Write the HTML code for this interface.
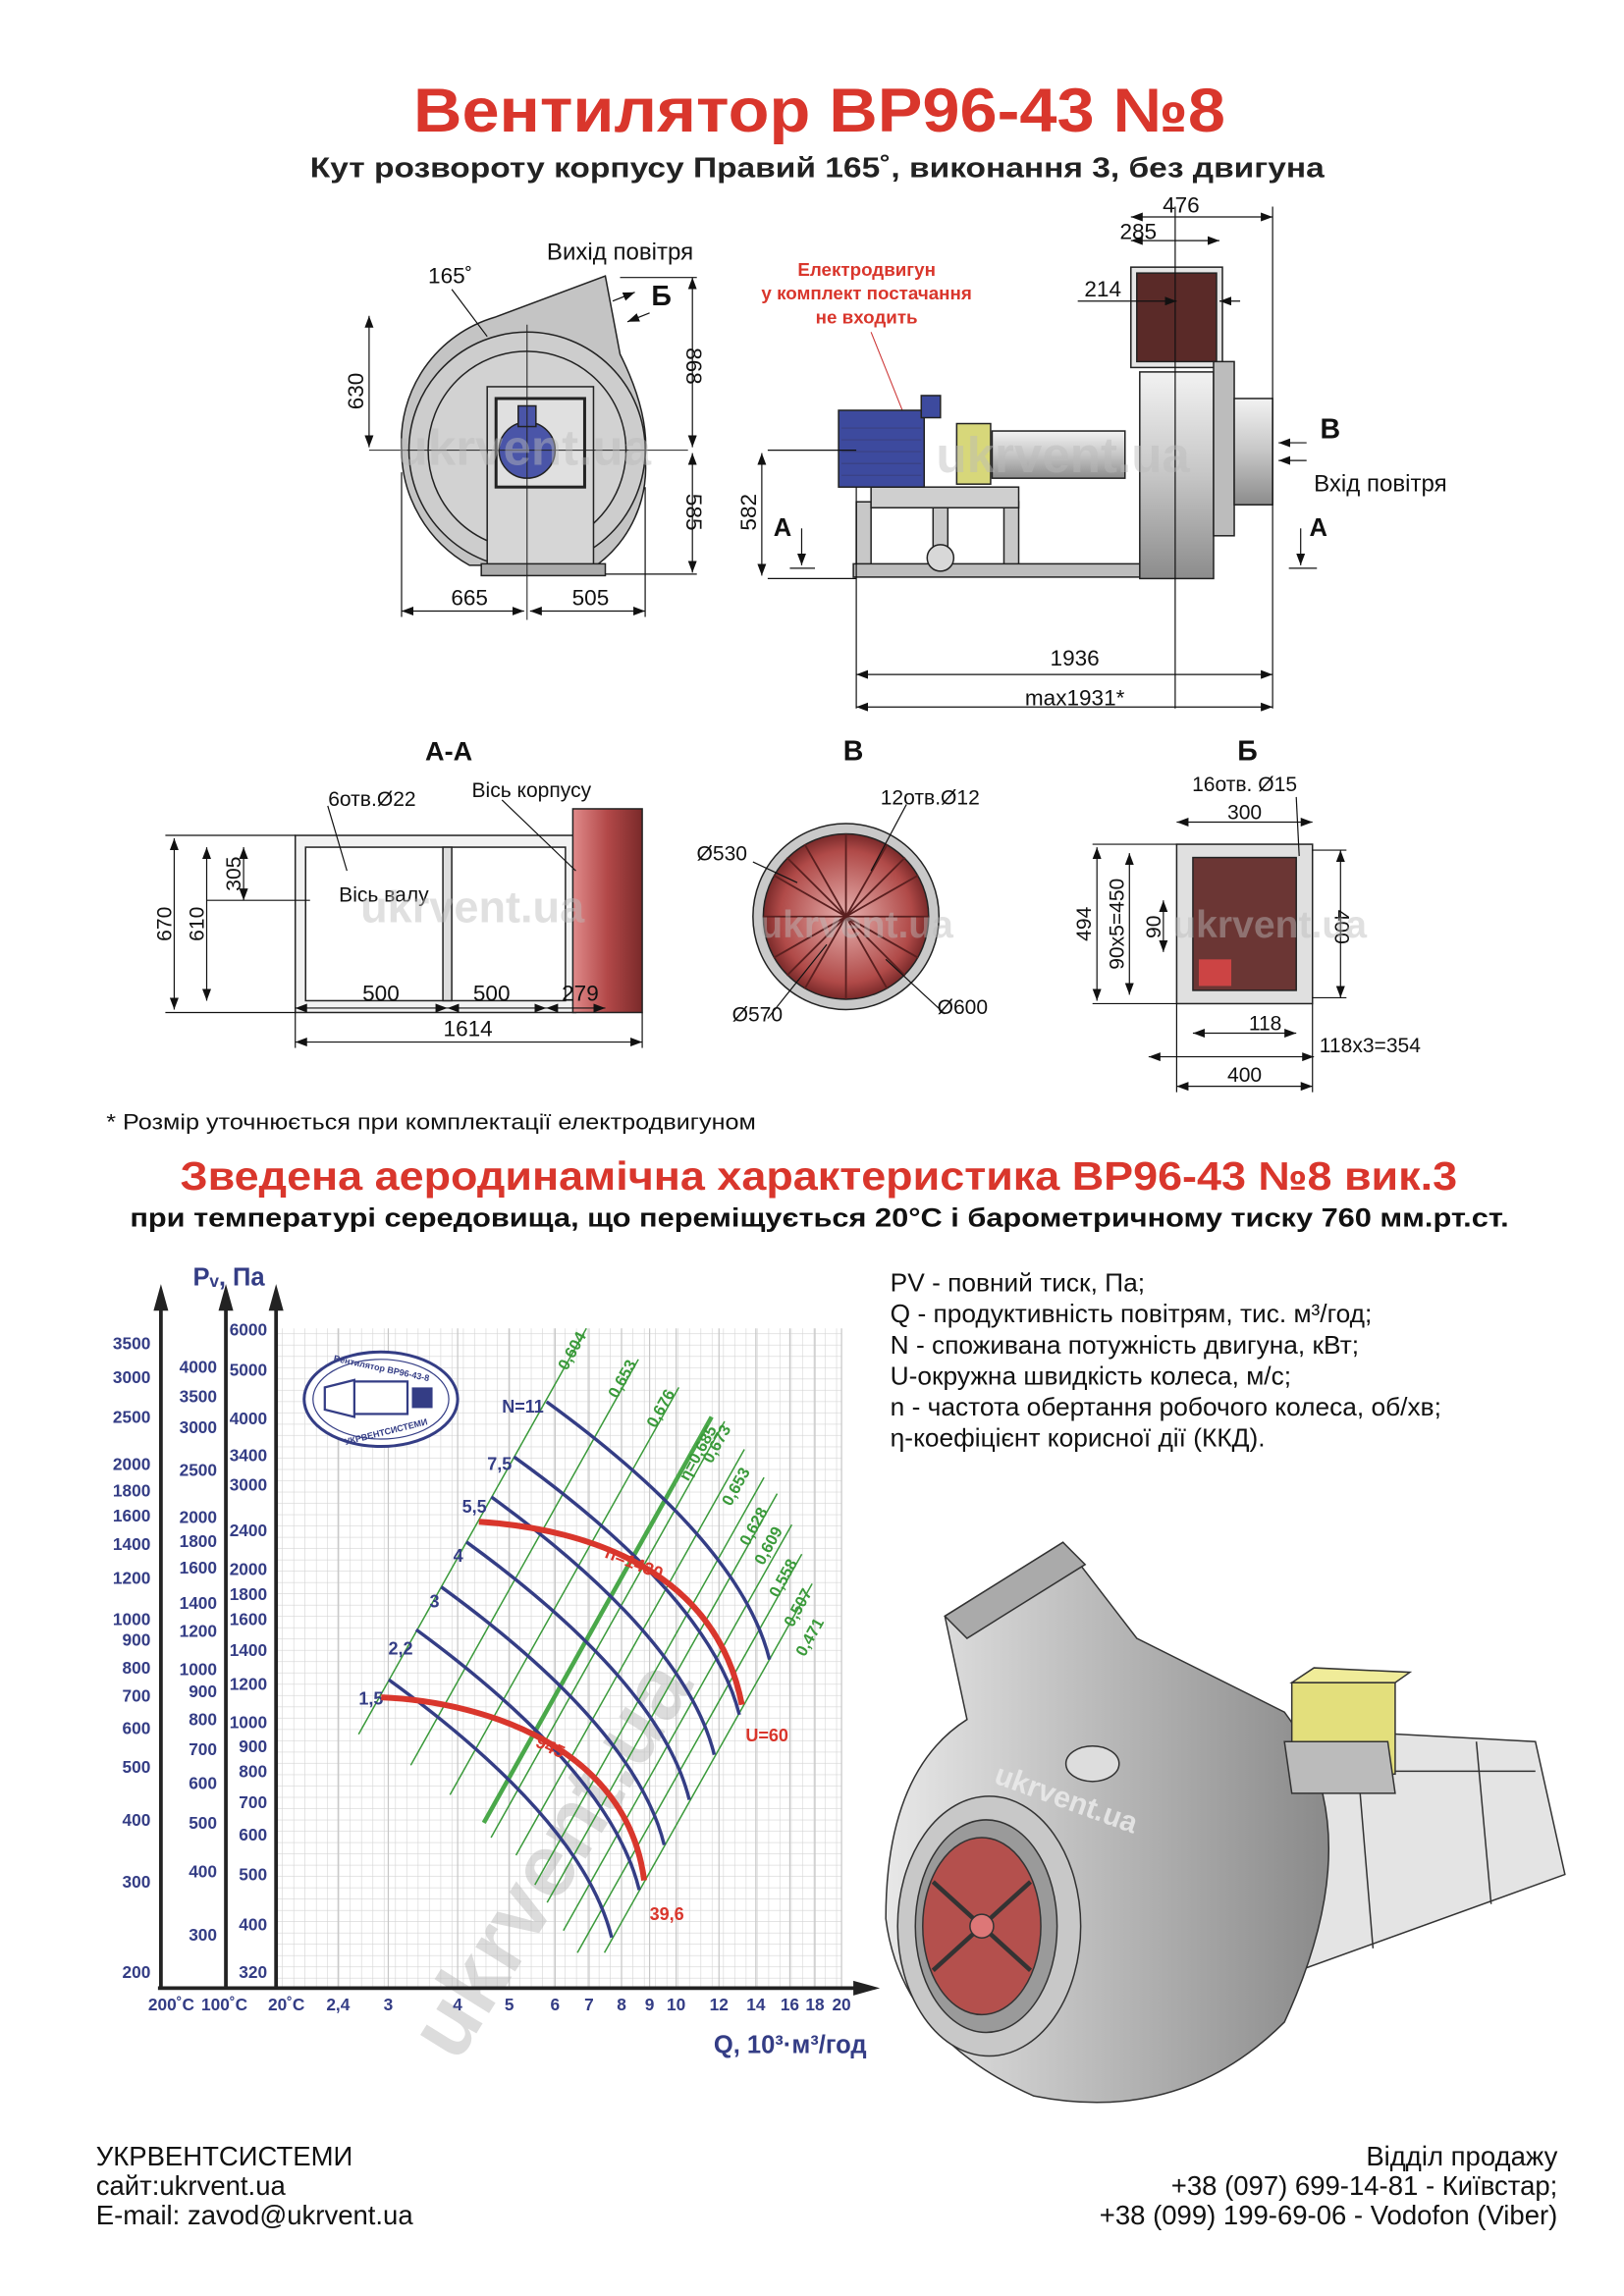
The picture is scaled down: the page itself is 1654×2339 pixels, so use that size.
<!DOCTYPE html>
<html><head><meta charset="utf-8"><style>
html,body{margin:0;padding:0;background:#fff}
svg{display:block}
text{font-family:"Liberation Sans",Arial,sans-serif}
</style></head><body>
<svg width="1654" height="2339" viewBox="0 0 1100 1555.6" preserveAspectRatio="none" xmlns="http://www.w3.org/2000/svg">
<defs>
<marker id="a" markerWidth="8" markerHeight="6" refX="8" refY="3" orient="auto-start-reverse" markerUnits="userSpaceOnUse"><path d="M0,0 L8,3 L0,6 z" fill="#111"/></marker>
<pattern id="grid" width="7.66" height="7.66" patternUnits="userSpaceOnUse"><path d="M7.66 0V7.66H0" fill="none" stroke="#d4d4d4" stroke-width="0.8"/></pattern>
<linearGradient id="gh" x1="0" x2="1"><stop offset="0" stop-color="#e8e8e8"/><stop offset="0.5" stop-color="#b8b8b8"/><stop offset="1" stop-color="#8a8a8a"/></linearGradient>
<linearGradient id="gv" x1="0" x2="0" y1="0" y2="1"><stop offset="0" stop-color="#f2f2f2"/><stop offset="0.5" stop-color="#c6c6c6"/><stop offset="1" stop-color="#8c8c8c"/></linearGradient>
<linearGradient id="red" x1="0" x2="1"><stop offset="0" stop-color="#e08a8a"/><stop offset="0.5" stop-color="#b24848"/><stop offset="1" stop-color="#7a2a2a"/></linearGradient>
<radialGradient id="rc"><stop offset="0" stop-color="#e6b0ae"/><stop offset="0.8" stop-color="#b04a48"/><stop offset="1" stop-color="#7a2a2a"/></radialGradient>
</defs>

<!-- Titles -->
<text x="280" y="89" font-size="42" font-weight="bold" fill="#d9362c" textLength="550" lengthAdjust="spacingAndGlyphs">Вентилятор  ВР96-43 №8</text>
<text x="210" y="120" font-size="19" font-weight="bold" fill="#222" textLength="687" lengthAdjust="spacingAndGlyphs">Кут розвороту корпусу Правий 165˚, виконання 3, без двигуна</text>

<!-- LEFT FAN SIDE VIEW -->
<g stroke="#222" stroke-width="1">
<path d="M410,187 L420,240 Q440,280 437,310 A82,82 0 0 1 404,383 L318,383 A90,90 0 0 1 272,305 A88,88 0 0 1 335,215 Z" fill="#c4c4c4"/>
<circle cx="357" cy="305" r="80" fill="#cdcdcd"/>
<circle cx="357" cy="305" r="67" fill="#d2d2d2"/>
<rect x="330" y="262" width="72" height="122" fill="#d6d6d6"/>
<rect x="336" y="270" width="60" height="60" fill="#e0e0e0" stroke-width="2"/>
<circle cx="357" cy="305" r="19" fill="#4a55a8"/>
<rect x="351" y="275" width="12" height="14" fill="#4a55a8"/>
<rect x="326" y="382" width="84" height="8" fill="#aaa"/>
</g>
<line x1="250" y1="305" x2="466" y2="305" stroke="#222" stroke-width="0.7"/>
<line x1="357" y1="220" x2="357" y2="420" stroke="#222" stroke-width="0.7"/>
<g stroke="#111" stroke-width="0.8" fill="none">
<line x1="250" y1="214" x2="250" y2="303" marker-start="url(#a)" marker-end="url(#a)"/>
<line x1="469" y1="188" x2="469" y2="303" marker-start="url(#a)" marker-end="url(#a)"/>
<line x1="469" y1="307" x2="469" y2="388" marker-start="url(#a)" marker-end="url(#a)"/>
<line x1="272" y1="414" x2="355" y2="414" marker-start="url(#a)" marker-end="url(#a)"/>
<line x1="359" y1="414" x2="437" y2="414" marker-start="url(#a)" marker-end="url(#a)"/>
<line x1="272" y1="320" x2="272" y2="418"/><line x1="437" y1="330" x2="437" y2="418"/>
<line x1="420" y1="188" x2="472" y2="188"/><line x1="410" y1="389" x2="472" y2="389"/>
<line x1="306" y1="196" x2="330" y2="228"/>
<line x1="415" y1="204" x2="430" y2="198" marker-end="url(#a)"/>
<line x1="440" y1="212" x2="425" y2="218" marker-end="url(#a)"/>
</g>
<text x="420" y="176" text-anchor="middle" font-size="16" fill="#111">Вихід повітря</text>
<text x="305" y="192" text-anchor="middle" font-size="15" fill="#111">165˚</text>
<text x="448" y="207" text-anchor="middle" font-size="19" font-weight="bold" fill="#111">Б</text>
<text x="246" y="265" font-size="15" fill="#111" transform="rotate(-90 246 265)" text-anchor="middle">630</text>
<text x="465" y="248" font-size="15" fill="#111" transform="rotate(90 465 248)" text-anchor="middle">868</text>
<text x="465" y="347" font-size="15" fill="#111" transform="rotate(90 465 347)" text-anchor="middle">585</text>
<text x="318" y="410" text-anchor="middle" font-size="15" fill="#111">665</text>
<text x="400" y="410" text-anchor="middle" font-size="15" fill="#111">505</text>

<!-- RIGHT SIDE VIEW -->
<text x="587" y="187" text-anchor="middle" font-size="12.5" font-weight="bold" fill="#d9362c">Електродвигун</text>
<text x="587" y="203" text-anchor="middle" font-size="12.5" font-weight="bold" fill="#d9362c">у комплект постачання</text>
<text x="587" y="219" text-anchor="middle" font-size="12.5" font-weight="bold" fill="#d9362c">не входить</text>
<line x1="590" y1="225" x2="614" y2="285" stroke="#c33" stroke-width="0.7"/>
<g stroke="#222" stroke-width="1">
<rect x="580" y="340" width="10" height="48" fill="#c8c8c8"/>
<rect x="680" y="340" width="10" height="48" fill="#c8c8c8"/>
<rect x="632" y="342" width="10" height="46" fill="#c8c8c8"/>
<rect x="590" y="330" width="100" height="14" fill="#cfcfcf"/>
<rect x="578" y="382" width="198" height="9" fill="#bdbdbd"/>
<circle cx="637" cy="378" r="9" fill="#d8d8d8"/>
<rect x="568" y="278" width="58" height="52" fill="#3d4a9e"/>
<rect x="624" y="268" width="13" height="15" fill="#3d4a9e"/>
<rect x="648" y="287" width="23" height="41" fill="#d7d77a"/>
<rect x="672" y="292" width="90" height="32" fill="url(#gv)"/>
<rect x="772" y="252" width="50" height="140" fill="url(#gv)"/>
<rect x="766" y="181" width="62" height="68" fill="#e6e6e6"/>
<rect x="770" y="185" width="54" height="60" fill="#5a2a28"/>
<rect x="822" y="245" width="14" height="118" fill="#bcbcbc"/>
<rect x="836" y="270" width="26" height="72" fill="url(#gv)"/>
</g>
<g stroke="#3a3f7a" stroke-width="0.6">
<line x1="570" y1="290" x2="624" y2="290"/><line x1="570" y1="298" x2="624" y2="298"/><line x1="570" y1="306" x2="624" y2="306"/><line x1="570" y1="314" x2="624" y2="314"/><line x1="570" y1="322" x2="624" y2="322"/>
</g>
<g stroke="#111" stroke-width="0.8" fill="none">
<line x1="796" y1="140" x2="796" y2="480"/><line x1="862" y1="140" x2="862" y2="480"/><line x1="580" y1="330" x2="580" y2="480"/>
<line x1="766" y1="147" x2="862" y2="147" marker-start="url(#a)" marker-end="url(#a)"/>
<line x1="766" y1="163" x2="826" y2="163" marker-start="url(#a)" marker-end="url(#a)"/>
<line x1="730" y1="204" x2="797" y2="204" marker-end="url(#a)"/>
<line x1="840" y1="204" x2="826" y2="204" marker-end="url(#a)"/>
<line x1="520" y1="305" x2="580" y2="305"/><line x1="520" y1="392" x2="580" y2="392"/>
<line x1="516" y1="307" x2="516" y2="390" marker-start="url(#a)" marker-end="url(#a)"/>
<line x1="580" y1="457" x2="862" y2="457" marker-start="url(#a)" marker-end="url(#a)"/>
<line x1="580" y1="479" x2="862" y2="479" marker-start="url(#a)" marker-end="url(#a)"/>
<line x1="543" y1="358" x2="543" y2="383" marker-end="url(#a)"/><line x1="535" y1="385" x2="552" y2="385"/>
<line x1="881" y1="358" x2="881" y2="383" marker-end="url(#a)"/><line x1="873" y1="385" x2="892" y2="385"/>
<line x1="885" y1="300" x2="866" y2="300" marker-end="url(#a)"/>
<line x1="885" y1="312" x2="866" y2="312" marker-end="url(#a)"/>
</g>
<text x="800" y="144" text-anchor="middle" font-size="15" fill="#111">476</text>
<text x="771" y="162" text-anchor="middle" font-size="15" fill="#111">285</text>
<text x="747" y="201" text-anchor="middle" font-size="15" fill="#111">214</text>
<text x="512" y="347" font-size="15" fill="#111" transform="rotate(-90 512 347)" text-anchor="middle">582</text>
<text x="530" y="363" text-anchor="middle" font-size="17" font-weight="bold" fill="#111">А</text>
<text x="893" y="363" text-anchor="middle" font-size="17" font-weight="bold" fill="#111">А</text>
<text x="901" y="297" text-anchor="middle" font-size="19" font-weight="bold" fill="#111">В</text>
<text x="935" y="333" text-anchor="middle" font-size="16" fill="#111">Вхід повітря</text>
<text x="728" y="451" text-anchor="middle" font-size="15" fill="#111">1936</text>
<text x="728" y="478" text-anchor="middle" font-size="15" fill="#111">max1931*</text>

<!-- SECTION A-A -->
<text x="304" y="515" text-anchor="middle" font-size="18" font-weight="bold" fill="#111">А-А</text>
<g stroke="#222" stroke-width="1">
<rect x="200" y="566" width="190" height="120" fill="#f2f2f2"/>
<rect x="207" y="574" width="176" height="104" fill="#fff"/>
<rect x="300" y="574" width="6" height="104" fill="#ddd"/>
<rect x="388" y="548" width="47" height="138" fill="url(#red)"/>
</g>
<g stroke="#111" stroke-width="0.8" fill="none">
<line x1="112" y1="566" x2="200" y2="566"/><line x1="112" y1="686" x2="200" y2="686"/>
<line x1="118" y1="568" x2="118" y2="684" marker-start="url(#a)" marker-end="url(#a)"/>
<line x1="140" y1="574" x2="140" y2="678" marker-start="url(#a)" marker-end="url(#a)"/>
<line x1="165" y1="574" x2="165" y2="610" marker-start="url(#a)" marker-end="url(#a)"/>
<line x1="140" y1="610" x2="210" y2="610"/>
<line x1="200" y1="686" x2="200" y2="710"/><line x1="435" y1="686" x2="435" y2="710"/>
<line x1="200" y1="683" x2="303" y2="683" marker-start="url(#a)" marker-end="url(#a)"/>
<line x1="303" y1="683" x2="370" y2="683" marker-start="url(#a)" marker-end="url(#a)"/>
<line x1="370" y1="683" x2="410" y2="683" marker-start="url(#a)" marker-end="url(#a)"/>
<line x1="200" y1="706" x2="435" y2="706" marker-start="url(#a)" marker-end="url(#a)"/>
<line x1="222" y1="546" x2="235" y2="590"/><line x1="340" y1="542" x2="390" y2="590"/>
</g>
<text x="252" y="546" text-anchor="middle" font-size="14" fill="#111">6отв.Ø22</text>
<text x="360" y="540" text-anchor="middle" font-size="14" fill="#111">Вісь корпусу</text>
<text x="260" y="611" text-anchor="middle" font-size="14" fill="#111">Вісь валу</text>
<text x="116" y="626" font-size="14" fill="#111" transform="rotate(-90 116 626)" text-anchor="middle">670</text>
<text x="138" y="626" font-size="14" fill="#111" transform="rotate(-90 138 626)" text-anchor="middle">610</text>
<text x="163" y="592" font-size="14" fill="#111" transform="rotate(-90 163 592)" text-anchor="middle">305</text>
<text x="258" y="678" text-anchor="middle" font-size="15" fill="#111">500</text>
<text x="333" y="678" text-anchor="middle" font-size="15" fill="#111">500</text>
<text x="393" y="678" text-anchor="middle" font-size="15" fill="#111">279</text>
<text x="317" y="702" text-anchor="middle" font-size="15" fill="#111">1614</text>

<!-- VIEW B -->
<text x="578" y="515" text-anchor="middle" font-size="19" font-weight="bold" fill="#111">В</text>
<circle cx="573" cy="621" r="63" fill="#c9c9c9" stroke="#222"/>
<circle cx="573" cy="621" r="56" fill="url(#rc)" stroke="#222"/>
<g stroke="#5a1f1f" stroke-width="1.2">
<line x1="517" y1="621" x2="629" y2="621"/><line x1="573" y1="565" x2="573" y2="677"/>
<line x1="533" y1="581" x2="613" y2="661"/><line x1="613" y1="581" x2="533" y2="661"/>
<line x1="545" y1="572" x2="601" y2="670"/><line x1="601" y1="572" x2="545" y2="670"/>
<line x1="524" y1="593" x2="622" y2="649"/><line x1="622" y1="593" x2="524" y2="649"/>
</g>
<g stroke="#111" stroke-width="0.8" fill="none">
<line x1="510" y1="584" x2="540" y2="598"/><line x1="614" y1="545" x2="590" y2="590"/>
<line x1="520" y1="690" x2="560" y2="640"/><line x1="640" y1="687" x2="600" y2="650"/>
</g>
<text x="489" y="583" text-anchor="middle" font-size="14" fill="#111">Ø530</text>
<text x="630" y="545" text-anchor="middle" font-size="14" fill="#111">12отв.Ø12</text>
<text x="513" y="692" text-anchor="middle" font-size="14" fill="#111">Ø570</text>
<text x="652" y="687" text-anchor="middle" font-size="14" fill="#111">Ø600</text>

<!-- VIEW Б -->
<text x="845" y="515" text-anchor="middle" font-size="19" font-weight="bold" fill="#111">Б</text>
<rect x="797" y="572" width="92" height="108" fill="#e0e0e0" stroke="#222"/>
<rect x="808" y="581" width="70" height="90" fill="#6b3634" stroke="#222"/>
<rect x="812" y="650" width="22" height="18" fill="#c44"/>
<g stroke="#111" stroke-width="0.8" fill="none">
<line x1="797" y1="557" x2="889" y2="557" marker-start="url(#a)" marker-end="url(#a)"/>
<line x1="740" y1="572" x2="797" y2="572"/><line x1="740" y1="680" x2="797" y2="680"/>
<line x1="743" y1="574" x2="743" y2="678" marker-start="url(#a)" marker-end="url(#a)"/>
<line x1="765" y1="578" x2="765" y2="674" marker-start="url(#a)" marker-end="url(#a)"/>
<line x1="788" y1="610" x2="788" y2="645" marker-start="url(#a)" marker-end="url(#a)"/>
<line x1="908" y1="576" x2="908" y2="676" marker-start="url(#a)" marker-end="url(#a)"/>
<line x1="889" y1="576" x2="912" y2="576"/><line x1="889" y1="676" x2="912" y2="676"/>
<line x1="797" y1="680" x2="797" y2="740"/><line x1="889" y1="680" x2="889" y2="740"/>
<line x1="808" y1="700" x2="878" y2="700" marker-start="url(#a)" marker-end="url(#a)"/>
<line x1="778" y1="716" x2="890" y2="716" marker-start="url(#a)" marker-end="url(#a)"/>
<line x1="797" y1="736" x2="889" y2="736" marker-start="url(#a)" marker-end="url(#a)"/>
<line x1="878" y1="540" x2="880" y2="580"/>
</g>
<text x="843" y="536" text-anchor="middle" font-size="14" fill="#111">16отв. Ø15</text>
<text x="843" y="555" text-anchor="middle" font-size="14" fill="#111">300</text>
<text x="739" y="626" font-size="14" fill="#111" transform="rotate(-90 739 626)" text-anchor="middle">494</text>
<text x="761" y="626" font-size="14" fill="#111" transform="rotate(-90 761 626)" text-anchor="middle">90х5=450</text>
<text x="786" y="628" font-size="14" fill="#111" transform="rotate(-90 786 628)" text-anchor="middle">90</text>
<text x="904" y="628" font-size="14" fill="#111" transform="rotate(90 904 628)" text-anchor="middle">400</text>
<text x="857" y="698" text-anchor="middle" font-size="14" fill="#111">118</text>
<text x="928" y="713" text-anchor="middle" font-size="14" fill="#111">118х3=354</text>
<text x="843" y="733" text-anchor="middle" font-size="14" fill="#111">400</text>

<!-- watermarks -->
<g fill="#bbb" opacity="0.45" font-weight="bold">
<text x="355" y="315" text-anchor="middle" font-size="34">ukrvent.ua</text>
<text x="720" y="320" text-anchor="middle" font-size="34">ukrvent.ua</text>
<text x="320" y="625" text-anchor="middle" font-size="30">ukrvent.ua</text>
<text x="580" y="635" text-anchor="middle" font-size="26">ukrvent.ua</text>
<text x="860" y="635" text-anchor="middle" font-size="26">ukrvent.ua</text>
</g>

<text x="72" y="765" font-size="15" fill="#111" textLength="440" lengthAdjust="spacingAndGlyphs">* Розмір уточнюється при комплектації електродвигуном</text>
<text x="122" y="806" font-size="27" font-weight="bold" fill="#d9362c" textLength="865" lengthAdjust="spacingAndGlyphs">Зведена аеродинамічна характеристика ВР96-43 №8 вик.3</text>
<text x="88" y="831" font-size="18" font-weight="bold" fill="#111" textLength="934" lengthAdjust="spacingAndGlyphs">при температурі середовища, що переміщується 20°С і барометричному тиску 760 мм.рт.ст.</text>

<!-- CHART -->
<rect x="187" y="900" width="383" height="447" fill="url(#grid)"/>
<g stroke="#c6c6c6" stroke-width="0.8">
<line x1="229" y1="900" x2="229" y2="1347"/><line x1="263" y1="900" x2="263" y2="1347"/><line x1="310" y1="900" x2="310" y2="1347"/><line x1="345" y1="900" x2="345" y2="1347"/><line x1="376" y1="900" x2="376" y2="1347"/><line x1="399" y1="900" x2="399" y2="1347"/><line x1="421" y1="900" x2="421" y2="1347"/><line x1="440" y1="900" x2="440" y2="1347"/><line x1="458" y1="900" x2="458" y2="1347"/><line x1="487" y1="900" x2="487" y2="1347"/><line x1="512" y1="900" x2="512" y2="1347"/><line x1="535" y1="900" x2="535" y2="1347"/><line x1="552" y1="900" x2="552" y2="1347"/><line x1="570" y1="900" x2="570" y2="1347"/>
</g>
<text x="390" y="1270" font-size="60" font-weight="bold" fill="#bbb" opacity="0.5" transform="rotate(-58 390 1270)" text-anchor="middle">ukrvent.ua</text>
<g stroke="#3a9a3a" stroke-width="1">
<line x1="397.2" y1="900" x2="242.9" y2="1175"/>
<line x1="432.4" y1="921" x2="278.2" y2="1196"/>
<line x1="459.8" y1="940" x2="304.8" y2="1216"/>
<line x1="482" y1="960" x2="327.7" y2="1235" stroke-width="3" stroke="#4aa84a"/>
<line x1="490.8" y1="963" x2="332.6" y2="1245"/>
<line x1="504.2" y1="982" x2="349.5" y2="1257"/>
<line x1="517.5" y1="1001" x2="362.3" y2="1277"/>
<line x1="526.4" y1="1012" x2="370.6" y2="1289"/>
<line x1="536.3" y1="1033" x2="381.6" y2="1308"/>
<line x1="543.1" y1="1053" x2="391.1" y2="1323"/>
<line x1="550.1" y1="1073" x2="409.4" y2="1323"/>
</g>
<g fill="#3a9a3a" font-size="11" font-weight="bold">
<text transform="translate(384,929) rotate(-61)">0,604</text>
<text transform="translate(418,948) rotate(-61)">0,653</text>
<text transform="translate(444,968) rotate(-61)">0,676</text>
<text transform="translate(466,1004) rotate(-61)">η=0,685</text>
<text transform="translate(482,992) rotate(-61)">0,673</text>
<text transform="translate(495,1021) rotate(-61)">0,653</text>
<text transform="translate(507,1048) rotate(-61)">0,628</text>
<text transform="translate(517,1061) rotate(-61)">0,609</text>
<text transform="translate(527,1083) rotate(-61)">0,558</text>
<text transform="translate(537,1103) rotate(-61)">0,507</text>
<text transform="translate(545,1123) rotate(-61)">0,471</text>
</g>
<g stroke="#343d85" stroke-width="2.3" fill="none">
<path d="M370.2,949.7 Q501.7,1045.4 521.2,1124.4"/>
<path d="M348.1,987 Q481.1,1082.8 500.8,1161.8"/>
<path d="M332.8,1014.2 Q464.3,1109.9 483.8,1188.9"/>
<path d="M315.9,1044.7 Q447.4,1140.4 466.9,1219.4"/>
<path d="M298.9,1075.2 Q430.4,1171 449.9,1250"/>
<path d="M281.9,1104.1 Q413.5,1200.8 433,1280.5"/>
<path d="M263.3,1138 Q394.8,1233.7 414.3,1312.7"/>
</g>
<g fill="#343d85" font-size="12" font-weight="bold">
<text x="340" y="957">N=11</text><text x="330" y="996">7,5</text><text x="313" y="1025">5,5</text><text x="307" y="1058">4</text><text x="291" y="1089">3</text><text x="263" y="1121">2,2</text><text x="243" y="1155">1,5</text>
</g>
<g stroke="#d9362c" stroke-width="4" fill="none">
<path d="M324.4,1031 C400,1036 485,1065 502.5,1155"/>
<path d="M258.2,1150 C330,1153 425,1185 436.3,1274"/>
</g>
<g fill="#d9362c" font-size="12" font-weight="bold">
<text transform="translate(409,1055) rotate(22)">n=1430</text>
<text x="505" y="1180">U=60</text>
<text transform="translate(362,1183) rotate(25)">945</text>
<text x="440" y="1301">39,6</text>
</g>
<ellipse cx="258" cy="948" rx="52" ry="32" fill="#fff" stroke="#343d85" stroke-width="2"/>
<ellipse cx="258" cy="948" rx="46" ry="27" fill="none" stroke="#343d85" stroke-width="0.8"/>
<rect x="240" y="936" width="36" height="22" fill="#fff" stroke="#343d85" stroke-width="1.5"/>
<path d="M220,940 L240,935 L240,960 L220,955 Z" fill="#fff" stroke="#343d85" stroke-width="1.5"/>
<rect x="279" y="940" width="14" height="14" fill="#343d85"/>
<text x="258" y="929" text-anchor="middle" font-size="6" font-weight="bold" fill="#343d85" transform="rotate(12 258 929)">Вентилятор ВР96-43-8</text>
<text x="262" y="972" text-anchor="middle" font-size="6" font-weight="bold" fill="#343d85" transform="rotate(-14 262 972)">УКРВЕНТСИСТЕМИ</text>
<g stroke="#222" stroke-width="2.5">
<line x1="109" y1="1347" x2="109" y2="885"/>
<line x1="153" y1="1347" x2="153" y2="885"/>
<line x1="187" y1="1347" x2="187" y2="885"/>
<line x1="107" y1="1347" x2="582" y2="1347"/>
</g>
<g fill="#222">
<path d="M104,888 L109,870 L114,888 Z"/><path d="M148,888 L153,870 L158,888 Z"/><path d="M182,888 L187,870 L192,888 Z"/>
<path d="M578,1342 L596,1347 L578,1352 Z"/>
</g>
<g fill="#343d85" font-size="11.5" font-weight="bold" text-anchor="end">
<text x="102" y="914">3500</text><text x="102" y="937">3000</text><text x="102" y="964">2500</text><text x="102" y="996">2000</text><text x="102" y="1014">1800</text><text x="102" y="1031">1600</text><text x="102" y="1050">1400</text><text x="102" y="1073">1200</text><text x="102" y="1101">1000</text><text x="102" y="1115">900</text><text x="102" y="1134">800</text><text x="102" y="1153">700</text><text x="102" y="1175">600</text><text x="102" y="1201">500</text><text x="102" y="1237">400</text><text x="102" y="1279">300</text><text x="102" y="1340">200</text>
<text x="147" y="930">4000</text><text x="147" y="950">3500</text><text x="147" y="971">3000</text><text x="147" y="1000">2500</text><text x="147" y="1032">2000</text><text x="147" y="1048">1800</text><text x="147" y="1066">1600</text><text x="147" y="1090">1400</text><text x="147" y="1109">1200</text><text x="147" y="1135">1000</text><text x="147" y="1150">900</text><text x="147" y="1169">800</text><text x="147" y="1189">700</text><text x="147" y="1212">600</text><text x="147" y="1239">500</text><text x="147" y="1272">400</text><text x="147" y="1315">300</text>
<text x="181" y="905">6000</text><text x="181" y="932">5000</text><text x="181" y="965">4000</text><text x="181" y="990">3400</text><text x="181" y="1010">3000</text><text x="181" y="1041">2400</text><text x="181" y="1067">2000</text><text x="181" y="1084">1800</text><text x="181" y="1101">1600</text><text x="181" y="1122">1400</text><text x="181" y="1145">1200</text><text x="181" y="1171">1000</text><text x="181" y="1187">900</text><text x="181" y="1204">800</text><text x="181" y="1225">700</text><text x="181" y="1247">600</text><text x="181" y="1274">500</text><text x="181" y="1308">400</text><text x="181" y="1340">320</text>
</g>
<g fill="#343d85" font-size="11.5" font-weight="bold" text-anchor="middle">
<text x="116" y="1362">200˚С</text><text x="152" y="1362">100˚С</text><text x="194" y="1362">20˚С</text><text x="229" y="1362">2,4</text><text x="263" y="1362">3</text><text x="310" y="1362">4</text><text x="345" y="1362">5</text><text x="376" y="1362">6</text><text x="399" y="1362">7</text><text x="421" y="1362">8</text><text x="440" y="1362">9</text><text x="458" y="1362">10</text><text x="487" y="1362">12</text><text x="512" y="1362">14</text><text x="535" y="1362">16</text><text x="552" y="1362">18</text><text x="570" y="1362">20</text>
</g>
<text x="587" y="1391" text-anchor="end" font-size="17" font-weight="bold" fill="#343d85">Q, 10³·м³/год</text>
<text x="155" y="871" text-anchor="middle" font-size="17" font-weight="bold" fill="#343d85">Pᵥ, Па</text>

<!-- legend -->
<g font-size="17.5" fill="#111">
<text x="603" y="875">PV - повний тиск, Па;</text>
<text x="603" y="896">Q - продуктивність повітрям, тис. м³/год;</text>
<text x="603" y="917">N - споживана потужність двигуна, кВт;</text>
<text x="603" y="938">U-окружна швидкість колеса, м/с;</text>
<text x="603" y="959">n - частота обертання робочого колеса, об/хв;</text>
<text x="603" y="980">η-коефіцієнт корисної дії (ККД).</text>
</g>

<!-- 3D fan -->
<g stroke="#333" stroke-width="1">
<path d="M855,1170 L1040,1180 L1060,1270 L880,1335 Z" fill="#e4e4e4"/>
<line x1="880" y1="1200" x2="1040" y2="1200"/><line x1="1000" y1="1180" x2="1010" y2="1290"/><line x1="920" y1="1200" x2="930" y2="1320"/>
<path d="M640,1095 L720,1045 L770,1110 L870,1160 Q930,1240 870,1370 Q800,1440 700,1420 Q610,1380 600,1300 Q600,1200 655,1165 Z" fill="url(#gh)"/>
<path d="M640,1095 L720,1045 L735,1060 L655,1110 Z" fill="#aaa"/>
<ellipse cx="670" cy="1305" rx="62" ry="88" fill="#c8c8c8"/>
<ellipse cx="668" cy="1305" rx="48" ry="72" fill="#9a9a9a"/>
<ellipse cx="665" cy="1305" rx="40" ry="60" fill="#b4504d"/>
<line x1="632" y1="1275" x2="698" y2="1335" stroke-width="3"/><line x1="698" y1="1275" x2="632" y2="1335" stroke-width="3"/>
<circle cx="665" cy="1305" r="8" fill="#d77"/>
<rect x="875" y="1140" width="70" height="62" fill="#e3df7c"/>
<path d="M875,1140 L890,1130 L955,1133 L945,1140 Z" fill="#f0ec99"/>
<ellipse cx="740" cy="1195" rx="18" ry="12" fill="#ddd"/>
<path d="M870,1180 L940,1180 L945,1215 L875,1215 Z" fill="#bbb"/>
</g>
<text x="720" y="1225" font-size="20" font-weight="bold" fill="#eee" opacity="0.8" transform="rotate(20 720 1225)" text-anchor="middle">ukrvent.ua</text>

<!-- footer -->
<g font-size="18.3" fill="#111">
<text x="65" y="1467">УКРВЕНТСИСТЕМИ</text>
<text x="65" y="1487">сайт:ukrvent.ua</text>
<text x="65" y="1507">E-mail: zavod@ukrvent.ua</text>
<text x="1055" y="1467" text-anchor="end">Відділ продажу</text>
<text x="1055" y="1487" text-anchor="end">+38 (097) 699-14-81 - Київстар;</text>
<text x="1055" y="1507" text-anchor="end">+38 (099) 199-69-06 - Vodofon (Viber)</text>
</g>
</svg>
</body></html>
